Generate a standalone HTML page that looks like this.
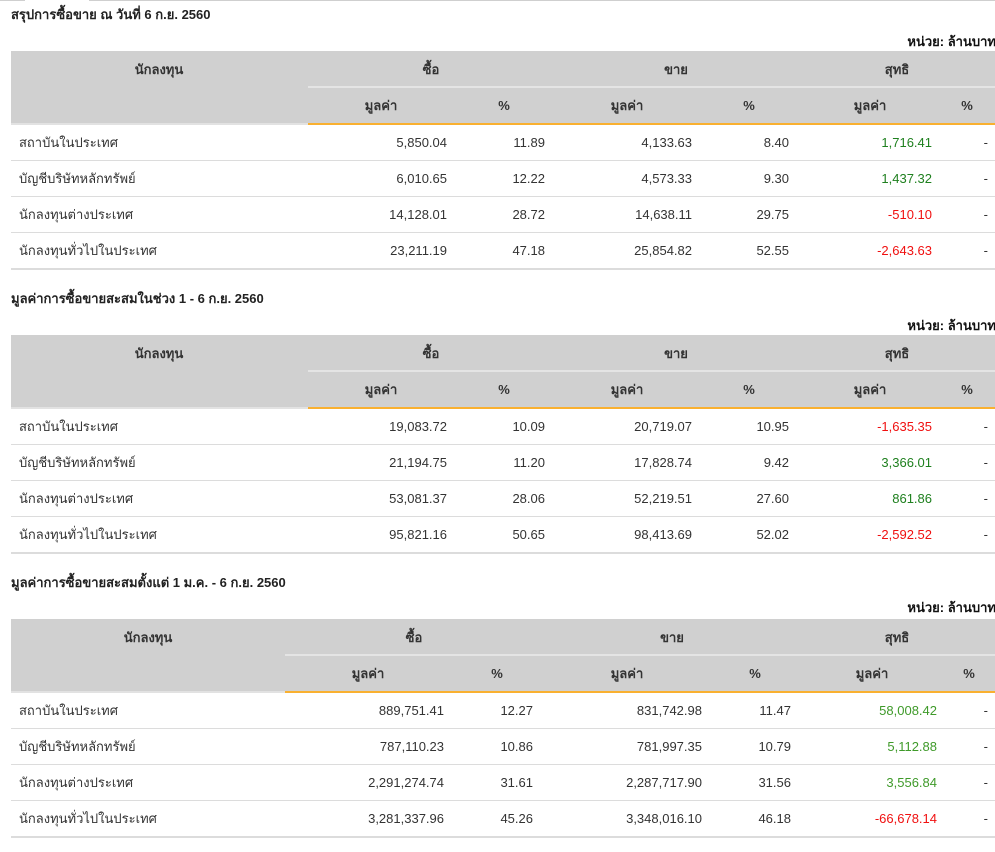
<!DOCTYPE html>
<html><head><meta charset="utf-8">
<style>
html,body{margin:0;padding:0;background:#fff;}
body{width:995px;height:842px;position:relative;overflow:hidden;font-family:"Liberation Sans",Arial,sans-serif;font-size:13px;color:#333;}
.sec{position:absolute;left:0;width:1000px;height:284px;}
.title{position:absolute;left:11px;top:6px;font-weight:bold;color:#222;line-height:18px;white-space:nowrap;}
.unit{position:absolute;right:4px;top:33px;font-weight:bold;color:#111;line-height:18px;white-space:nowrap;}
.hdr{position:absolute;left:11px;top:51px;width:990px;height:72px;background:#d0d0d0;}
.sep{position:absolute;top:86px;height:2px;background:#e4e4e4;}
.bl{position:absolute;top:123px;height:2px;}
.h{position:absolute;width:200px;margin-left:-100px;text-align:center;font-weight:bold;color:#333;line-height:18px;white-space:nowrap;}
.r1{top:61px;}
.r2{top:97px;}
.line{position:absolute;left:11px;width:990px;height:1px;background:#dcdcdc;}
.cell{position:absolute;line-height:36px;height:36px;white-space:nowrap;margin-top:1px;}
.lab{left:19px;}
.v{text-align:right;width:200px;}
.g{color:#1f801f;}
.g3{color:#3f9a2a;}
.red{color:#f01010;}
</style></head><body>
<div style="position:absolute;left:0;top:0;width:25px;height:1px;background:#cfcfcf"></div>
<div style="position:absolute;left:89px;top:0;width:906px;height:1px;background:#cfcfcf"></div>

<!-- Section 1 -->
<div class="sec" style="top:0">
<div class="title">สรุปการซื้อขาย ณ วันที่ 6 ก.ย. 2560</div>
<div class="unit">หน่วย: ล้านบาท</div>
<div class="hdr"></div>
<div class="sep" style="left:308px;width:692px"></div>
<div class="bl" style="left:11px;width:297px;background:#e2e2e2"></div>
<div class="bl" style="left:308px;width:692px;background:#f9b030"></div>
<div class="h r1" style="left:159px">นักลงทุน</div>
<div class="h r1" style="left:431px">ซื้อ</div>
<div class="h r1" style="left:676px">ขาย</div>
<div class="h r1" style="left:897px">สุทธิ</div>
<div class="h r2" style="left:381px">มูลค่า</div>
<div class="h r2" style="left:504px">%</div>
<div class="h r2" style="left:627px">มูลค่า</div>
<div class="h r2" style="left:749px">%</div>
<div class="h r2" style="left:870px">มูลค่า</div>
<div class="h r2" style="left:967px">%</div>

<div class="cell lab" style="top:124px">สถาบันในประเทศ</div>
<div class="cell v" style="top:124px;left:247px">5,850.04</div>
<div class="cell v" style="top:124px;left:345px">11.89</div>
<div class="cell v" style="top:124px;left:492px">4,133.63</div>
<div class="cell v" style="top:124px;left:589px">8.40</div>
<div class="cell v g" style="top:124px;left:732px">1,716.41</div>
<div class="cell v" style="top:124px;left:788px">-</div>
<div class="line" style="top:160px"></div>

<div class="cell lab" style="top:160px">บัญชีบริษัทหลักทรัพย์</div>
<div class="cell v" style="top:160px;left:247px">6,010.65</div>
<div class="cell v" style="top:160px;left:345px">12.22</div>
<div class="cell v" style="top:160px;left:492px">4,573.33</div>
<div class="cell v" style="top:160px;left:589px">9.30</div>
<div class="cell v g" style="top:160px;left:732px">1,437.32</div>
<div class="cell v" style="top:160px;left:788px">-</div>
<div class="line" style="top:196px"></div>

<div class="cell lab" style="top:196px">นักลงทุนต่างประเทศ</div>
<div class="cell v" style="top:196px;left:247px">14,128.01</div>
<div class="cell v" style="top:196px;left:345px">28.72</div>
<div class="cell v" style="top:196px;left:492px">14,638.11</div>
<div class="cell v" style="top:196px;left:589px">29.75</div>
<div class="cell v red" style="top:196px;left:732px">-510.10</div>
<div class="cell v" style="top:196px;left:788px">-</div>
<div class="line" style="top:232px"></div>

<div class="cell lab" style="top:232px">นักลงทุนทั่วไปในประเทศ</div>
<div class="cell v" style="top:232px;left:247px">23,211.19</div>
<div class="cell v" style="top:232px;left:345px">47.18</div>
<div class="cell v" style="top:232px;left:492px">25,854.82</div>
<div class="cell v" style="top:232px;left:589px">52.55</div>
<div class="cell v red" style="top:232px;left:732px">-2,643.63</div>
<div class="cell v" style="top:232px;left:788px">-</div>
<div class="line" style="top:268px;height:2px"></div>
</div>

<!-- Section 2 -->
<div class="sec" style="top:284px">
<div class="title">มูลค่าการซื้อขายสะสมในช่วง 1 - 6 ก.ย. 2560</div>
<div class="unit">หน่วย: ล้านบาท</div>
<div class="hdr"></div>
<div class="sep" style="left:308px;width:692px"></div>
<div class="bl" style="left:11px;width:297px;background:#e2e2e2"></div>
<div class="bl" style="left:308px;width:692px;background:#f9b030"></div>
<div class="h r1" style="left:159px">นักลงทุน</div>
<div class="h r1" style="left:431px">ซื้อ</div>
<div class="h r1" style="left:676px">ขาย</div>
<div class="h r1" style="left:897px">สุทธิ</div>
<div class="h r2" style="left:381px">มูลค่า</div>
<div class="h r2" style="left:504px">%</div>
<div class="h r2" style="left:627px">มูลค่า</div>
<div class="h r2" style="left:749px">%</div>
<div class="h r2" style="left:870px">มูลค่า</div>
<div class="h r2" style="left:967px">%</div>

<div class="cell lab" style="top:124px">สถาบันในประเทศ</div>
<div class="cell v" style="top:124px;left:247px">19,083.72</div>
<div class="cell v" style="top:124px;left:345px">10.09</div>
<div class="cell v" style="top:124px;left:492px">20,719.07</div>
<div class="cell v" style="top:124px;left:589px">10.95</div>
<div class="cell v red" style="top:124px;left:732px">-1,635.35</div>
<div class="cell v" style="top:124px;left:788px">-</div>
<div class="line" style="top:160px"></div>

<div class="cell lab" style="top:160px">บัญชีบริษัทหลักทรัพย์</div>
<div class="cell v" style="top:160px;left:247px">21,194.75</div>
<div class="cell v" style="top:160px;left:345px">11.20</div>
<div class="cell v" style="top:160px;left:492px">17,828.74</div>
<div class="cell v" style="top:160px;left:589px">9.42</div>
<div class="cell v g" style="top:160px;left:732px">3,366.01</div>
<div class="cell v" style="top:160px;left:788px">-</div>
<div class="line" style="top:196px"></div>

<div class="cell lab" style="top:196px">นักลงทุนต่างประเทศ</div>
<div class="cell v" style="top:196px;left:247px">53,081.37</div>
<div class="cell v" style="top:196px;left:345px">28.06</div>
<div class="cell v" style="top:196px;left:492px">52,219.51</div>
<div class="cell v" style="top:196px;left:589px">27.60</div>
<div class="cell v g" style="top:196px;left:732px">861.86</div>
<div class="cell v" style="top:196px;left:788px">-</div>
<div class="line" style="top:232px"></div>

<div class="cell lab" style="top:232px">นักลงทุนทั่วไปในประเทศ</div>
<div class="cell v" style="top:232px;left:247px">95,821.16</div>
<div class="cell v" style="top:232px;left:345px">50.65</div>
<div class="cell v" style="top:232px;left:492px">98,413.69</div>
<div class="cell v" style="top:232px;left:589px">52.02</div>
<div class="cell v red" style="top:232px;left:732px">-2,592.52</div>
<div class="cell v" style="top:232px;left:788px">-</div>
<div class="line" style="top:268px;height:2px"></div>
</div>

<!-- Section 3 -->
<div class="sec" style="top:568px">
<div class="title">มูลค่าการซื้อขายสะสมตั้งแต่ 1 ม.ค. - 6 ก.ย. 2560</div>
<div class="unit" style="top:31px">หน่วย: ล้านบาท</div>
<div class="hdr"></div>
<div class="sep" style="left:285px;width:715px"></div>
<div class="bl" style="left:11px;width:274px;background:#e2e2e2"></div>
<div class="bl" style="left:285px;width:715px;background:#f9b030"></div>
<div class="h r1" style="left:148px">นักลงทุน</div>
<div class="h r1" style="left:414px">ซื้อ</div>
<div class="h r1" style="left:672px">ขาย</div>
<div class="h r1" style="left:897px">สุทธิ</div>
<div class="h r2" style="left:368px">มูลค่า</div>
<div class="h r2" style="left:497px">%</div>
<div class="h r2" style="left:627px">มูลค่า</div>
<div class="h r2" style="left:755px">%</div>
<div class="h r2" style="left:872px">มูลค่า</div>
<div class="h r2" style="left:969px">%</div>

<div class="cell lab" style="top:124px">สถาบันในประเทศ</div>
<div class="cell v" style="top:124px;left:244px">889,751.41</div>
<div class="cell v" style="top:124px;left:333px">12.27</div>
<div class="cell v" style="top:124px;left:502px">831,742.98</div>
<div class="cell v" style="top:124px;left:591px">11.47</div>
<div class="cell v g3" style="top:124px;left:737px">58,008.42</div>
<div class="cell v" style="top:124px;left:788px">-</div>
<div class="line" style="top:160px"></div>

<div class="cell lab" style="top:160px">บัญชีบริษัทหลักทรัพย์</div>
<div class="cell v" style="top:160px;left:244px">787,110.23</div>
<div class="cell v" style="top:160px;left:333px">10.86</div>
<div class="cell v" style="top:160px;left:502px">781,997.35</div>
<div class="cell v" style="top:160px;left:591px">10.79</div>
<div class="cell v g3" style="top:160px;left:737px">5,112.88</div>
<div class="cell v" style="top:160px;left:788px">-</div>
<div class="line" style="top:196px"></div>

<div class="cell lab" style="top:196px">นักลงทุนต่างประเทศ</div>
<div class="cell v" style="top:196px;left:244px">2,291,274.74</div>
<div class="cell v" style="top:196px;left:333px">31.61</div>
<div class="cell v" style="top:196px;left:502px">2,287,717.90</div>
<div class="cell v" style="top:196px;left:591px">31.56</div>
<div class="cell v g3" style="top:196px;left:737px">3,556.84</div>
<div class="cell v" style="top:196px;left:788px">-</div>
<div class="line" style="top:232px"></div>

<div class="cell lab" style="top:232px">นักลงทุนทั่วไปในประเทศ</div>
<div class="cell v" style="top:232px;left:244px">3,281,337.96</div>
<div class="cell v" style="top:232px;left:333px">45.26</div>
<div class="cell v" style="top:232px;left:502px">3,348,016.10</div>
<div class="cell v" style="top:232px;left:591px">46.18</div>
<div class="cell v red" style="top:232px;left:737px">-66,678.14</div>
<div class="cell v" style="top:232px;left:788px">-</div>
<div class="line" style="top:268px;height:2px"></div>
</div>
</body></html>
